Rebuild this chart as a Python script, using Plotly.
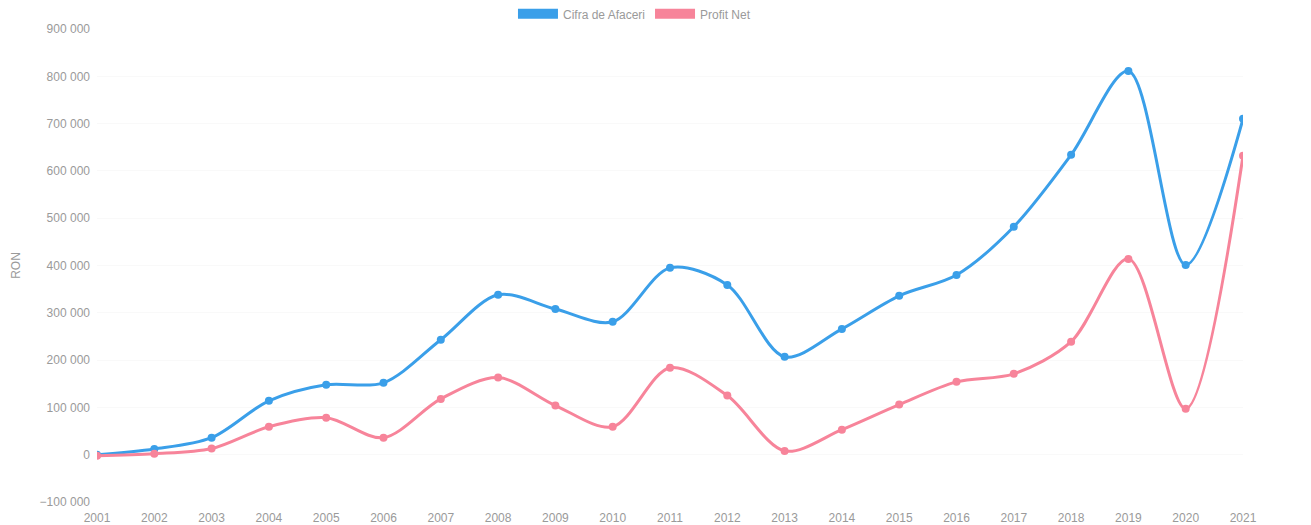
import plotly.graph_objects as go

years = list(range(2001, 2022))
cifra_afaceri = [0, 12000, 36000, 114000, 148000, 152000, 243000, 338000, 308000, 281000,
                 395000, 359000, 207000, 266000, 336000, 380000, 482000, 634000, 811000, 401000, 710000]
profit_net = [-2000, 2000, 13000, 59000, 78000, 36000, 118000, 163000, 104000, 59000,
              184000, 125000, 8000, 53000, 106000, 154000, 171000, 239000, 414000, 97000, 632000]
series_names = ["Cifra de Afaceri", "Profit Net"]
colors = ["#3A9FE9", "#F7849A"]

fig = go.Figure()
for name, vals, col in zip(series_names, [cifra_afaceri, profit_net], colors):
    fig.add_trace(go.Scatter(
        x=years, y=vals, mode="lines+markers", name=name, showlegend=False,
        line=dict(color=col, width=3, shape="spline", smoothing=0.9),
        marker=dict(color=col, size=8),
        hoverinfo="x+y",
    ))
    fig.add_trace(go.Scatter(
        x=[None], y=[None], mode="lines", name=name, showlegend=True,
        line=dict(color=col, width=12),
    ))

fig.update_layout(
    width=1303, height=517,
    margin=dict(l=89, r=68, t=21, b=23, autoexpand=False),
    paper_bgcolor="white", plot_bgcolor="white",
    separators=". ",
    font=dict(family="Liberation Sans, Arial, sans-serif", size=12, color="#9a9a9a"),
    legend=dict(orientation="h", x=0.469, xanchor="center", y=1.032, yanchor="middle",
                font=dict(size=12, color="#9a9a9a"),
                itemwidth=40, tracegroupgap=0),
    xaxis=dict(range=[2001, 2021], tickmode="array", tickvals=years,
               ticktext=[str(y) for y in years], showgrid=False, zeroline=False,
               showline=False, ticks="", automargin=False, ticklabelstandoff=7),
    yaxis=dict(range=[-100000, 900000], dtick=100000, tickformat=",d",
               showgrid=True, gridcolor="rgba(0,0,0,0.025)", zeroline=False,
               showline=False, ticks="", automargin=False, ticklabelstandoff=6,
               title=dict(text="RON", font=dict(size=12, color="#9a9a9a"), standoff=16)),
)

fig.write_html("out.html")
